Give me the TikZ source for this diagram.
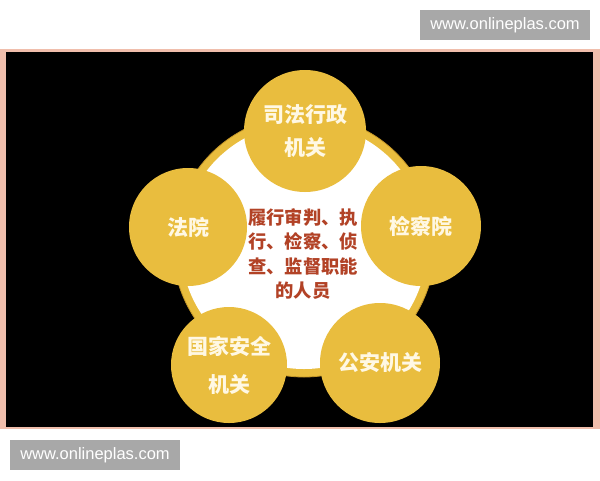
\documentclass[tikz,border=0pt]{standalone}
\usepackage{fontspec}
\setmainfont{Liberation Sans}
\newfontfamily\cjk{Noto Sans CJK SC}
\definecolor{gold}{RGB}{233,189,62}
\definecolor{golddark}{RGB}{196,150,40}
\definecolor{pinkframe}{RGB}{240,190,172}
\definecolor{redtext}{RGB}{178,66,38}
\definecolor{cream}{RGB}{255,248,228}
\definecolor{wmgray}{RGB}{168,168,168}
\begin{document}
\begin{tikzpicture}[x=1pt,y=-1pt,
  bubble/.style={circle, fill=gold, inner sep=0pt, text=cream, align=center,
    font=\cjk\bfseries\fontsize{21}{33}\selectfont},
  watermark/.style={fill=wmgray, text=white, minimum width=170pt, minimum height=30pt,
    inner sep=0pt, font=\fontsize{16.5}{18}\selectfont}]
\useasboundingbox (0,0) rectangle (600,480);
\fill[white] (0,0) rectangle (600,480);
\fill[pinkframe] (0,49) rectangle (600,429);
\fill[black] (6,52) rectangle (593,427);
% hub
\node[circle, fill=gold, draw=golddark, line width=0.8pt, minimum size=262pt, inner sep=0pt] (ring) at (304,246) {};
\node[circle, fill=white, minimum size=246pt, inner sep=0pt] (hub) at (304,246) {};
\node[text=redtext, align=center, font=\cjk\bfseries\fontsize{18.3}{24.5}\selectfont] (core) at (303,254)
  {履行审判、执\\行、检察、侦\\查、监督职能\\的人员};
% bubbles
\node[bubble, minimum size=122pt] (sifa) at (305,131) {司法行政\\机关};
\node[bubble, minimum size=118pt] (fayuan) at (188,227) {法院};
\node[bubble, minimum size=120pt] (jianchayuan) at (421,226) {检察院};
\node[bubble, minimum size=116pt, font=\cjk\bfseries\fontsize{21}{38}\selectfont] (guojia) at (229,365) {国家安全\\机关};
\node[bubble, minimum size=120pt] (gongan) at (380,363) {公安机关};
% watermarks
\node[watermark] (wmtop) at (505,25) {www.onlineplas.com};
\node[watermark] (wmbottom) at (95,455) {www.onlineplas.com};
\end{tikzpicture}
\end{document}
